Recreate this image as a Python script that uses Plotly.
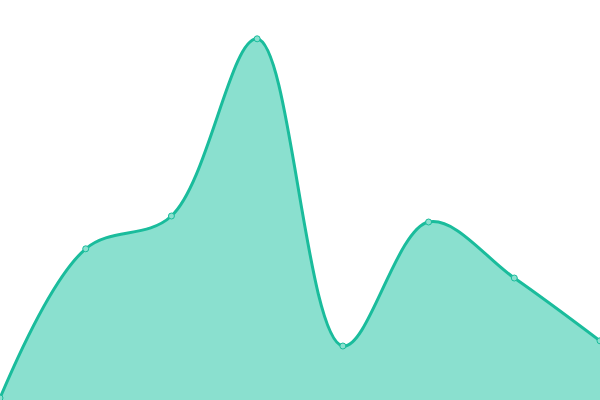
import plotly.graph_objects as go

# values (8 evenly spaced points)
x_idx = [0, 1, 2, 3, 4, 5, 6, 7]
values = [0.5, 37.8, 46, 90.3, 13.5, 44.5, 30.5, 14.8]

line_color = 'rgb(26,188,156)'

fig = go.Figure(
    data=go.Scatter(
        x=x_idx,
        y=values,
        mode='lines+markers',
        line=dict(color=line_color, width=3, shape='spline', smoothing=1),
        fill='tozeroy',
        fillcolor='rgb(138,224,207)',
        marker=dict(size=6, color='rgb(138,224,207)', line=dict(color=line_color, width=1)),
        hoverinfo='skip',
    )
)

fig.update_layout(
    width=600,
    height=400,
    margin=dict(l=0, r=0, t=0, b=0),
    paper_bgcolor='white',
    plot_bgcolor='white',
    showlegend=False,
)
fig.update_xaxes(range=[0, 7], visible=False, showgrid=False, zeroline=False)
fig.update_yaxes(range=[0, 100], visible=False, showgrid=False, zeroline=False)

# drop the default body margin so the chart fills the window
fig.write_html(
    "out.html",
    config={'displayModeBar': False},
    post_script="document.body.style.margin='0';",
)
